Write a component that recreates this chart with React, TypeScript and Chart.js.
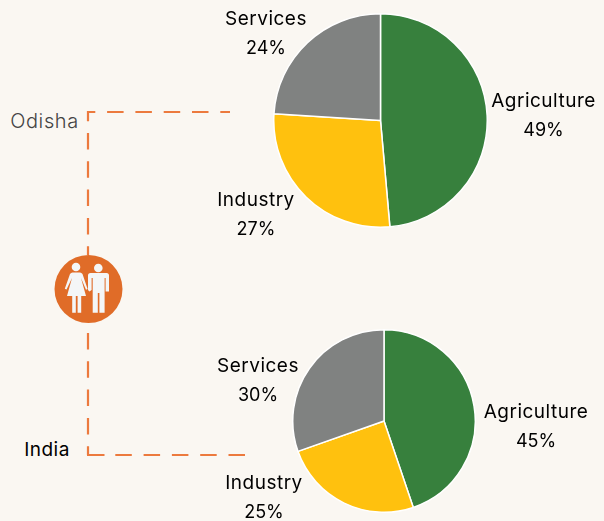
import React, { useEffect, useRef } from "react";
import { Chart, PieController, ArcElement } from "chart.js";

Chart.register(PieController, ArcElement);

const categories = ["Agriculture", "Industry", "Services"];
const odishaValues = [48.6, 27.4, 24];
const indiaValues = [44.8, 24.8, 30.4];
const sliceColors = ["#37803d", "#ffc10e", "#808281"];

const BG = "#faf7f2";
const LINE = "#ec7a3e";
const FONT = "Inter, 'Open Sans', sans-serif";

function Pie({ values, cx, cy, size }: { values: number[]; cx: number; cy: number; size: number }) {
  const ref = useRef<HTMLCanvasElement>(null);
  useEffect(() => {
    const chart = new Chart(ref.current!, {
      type: "pie",
      data: {
        labels: categories,
        datasets: [{ data: values, backgroundColor: sliceColors, borderColor: "#ffffff", borderWidth: 1.5 }],
      },
      options: {
        animation: false,
        responsive: false,
        events: [],
        layout: { padding: 0 },
        plugins: { legend: { display: false }, tooltip: { enabled: false } },
      },
    });
    return () => chart.destroy();
  }, []);
  return (
    <canvas
      ref={ref}
      width={size}
      height={size}
      style={{ position: "absolute", left: cx - size / 2, top: cy - size / 2, width: size, height: size }}
    />
  );
}

function Label({ x, y, text, color = "#000", weight = 400, size = 19, spacing = 0.5 }: any) {
  return (
    <div
      style={{
        position: "absolute",
        left: x - 100,
        top: y - 15,
        width: 200,
        height: 30,
        lineHeight: "30px",
        textAlign: "center",
        fontFamily: FONT,
        fontSize: size,
        fontWeight: weight,
        color,
        letterSpacing: spacing,
        whiteSpace: "nowrap",
      }}
    >
      {text}
    </div>
  );
}

function PieLabels({ values, places }: { values: number[]; places: number[][] }) {
  return (
    <>
      {categories.map((c, i) => (
        <React.Fragment key={c}>
          <Label x={places[i][0]} y={places[i][1]} text={c} />
          <Label x={places[i][0]} y={places[i][1] + 29} text={`${Math.round(values[i])}%`} size={18} spacing={0} />
        </React.Fragment>
      ))}
    </>
  );
}

export default function App() {
  useEffect(() => {
    document.body.style.margin = "0";
    document.body.style.background = BG;
  }, []);
  return (
    <div style={{ position: "relative", width: 604, height: 521, background: BG, overflow: "hidden" }}>
      <svg width={604} height={521} style={{ position: "absolute", left: 0, top: 0 }}>
        <path d="M230 112 H88 V255" fill="none" stroke={LINE} strokeWidth={2.2} strokeDasharray="16.5 11.8" strokeDashoffset={6.8} />
        <path d="M88 322 V455" fill="none" stroke={LINE} strokeWidth={2.2} strokeDasharray="16.5 11.8" strokeDashoffset={17.3} />
        <path d="M87 455 H246" fill="none" stroke={LINE} strokeWidth={2.2} strokeDasharray="17.5 10.8 16.5 11.8 16.5 11.8 16.5 11.8 16.5 11.8 16.5 11.8" />
        <circle cx={88.5} cy={289} r={34} fill="#e06c28" />
        <g fill="#f4f6f7">
          <circle cx={76} cy={267} r={4.3} />
          <path d="M72.5 272.5 H80 Q81.5 272.5 82.5 274 L87.6 289 L86 289.8 L81 278 L86 296 H81.2 V312.8 H77.6 V296 H75.8 V312.8 H72.2 V296 H67 L72 278 L66.5 289.6 L64.8 288.8 L70 274 Q71 272.5 72.5 272.5 Z" />
          <circle cx={98.3} cy={268} r={4.3} />
          <path d="M90.5 273 H106.5 Q109 273 109 275.5 V291.5 H105.6 V278 H104.6 V312.8 H99.4 V293 H97.8 V312.8 H92.7 V278 H91.6 V290 L89.4 291.5 L88 290 V275.5 Q88 273 90.5 273 Z" />
        </g>
      </svg>
      <Pie values={odishaValues} cx={380.5} cy={120.5} size={215} />
      <Pie values={indiaValues} cx={384} cy={421} size={184} />
      <PieLabels values={odishaValues} places={[[543.5, 101], [256, 200], [266, 19]]} />
      <PieLabels values={indiaValues} places={[[536, 412], [264, 483], [258, 366]]} />
      <Label x={44.5} y={121} text="Odisha" color="#444444" weight={300} size={20} spacing={0.6} />
      <Label x={47} y={450} text="India" />
    </div>
  );
}
